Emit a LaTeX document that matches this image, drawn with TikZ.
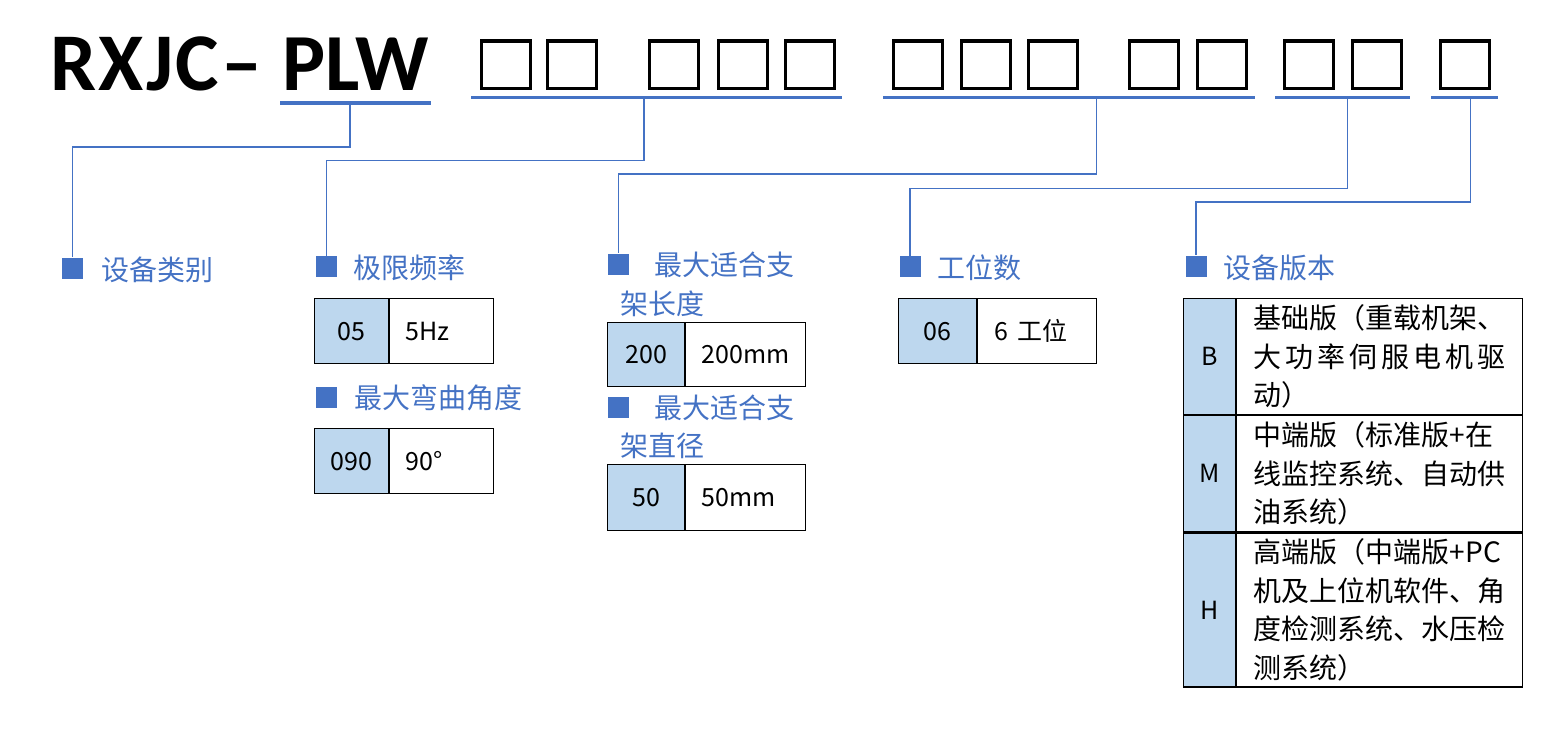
\documentclass[tikz,border=0pt]{standalone}
\usepackage{fontspec}
\setmainfont{Noto Sans CJK SC}
\newfontfamily\titlefont{Carlito}
\newfontfamily\wideTitlefont{Carlito}[LetterSpace=3]
\definecolor{tagblue}{HTML}{4472C4}
\definecolor{cellblue}{HTML}{BDD7EE}
\tikzset{
  tofu/.style={draw=black,line width=3.4},
  uline/.style={draw=tagblue,line width=3.2},
  link/.style={draw=tagblue,line width=1.4},
  sqtag/.style={fill=tagblue,minimum size=21,inner sep=0},
  lbl/.style={anchor=base west,inner sep=0,text=tagblue},
  keycell/.style={draw,line width=1.2,fill=cellblue,anchor=north west,inner sep=0,font=\fontsize{25}{25}\selectfont},
  valcell/.style={draw,line width=1.2,anchor=north west,inner xsep=16,inner ysep=0,align=left,font=\fontsize{25}{25}\selectfont},
  vercell/.style={valcell,inner xsep=17,text width=252,font=\fontsize{28}{38.5}\selectfont}
}
\begin{document}
\begin{tikzpicture}[x=1pt,y=-1pt,font=\fontsize{28}{28}\selectfont]
\useasboundingbox (0,0) rectangle (1564,731);
\node[anchor=base west,inner sep=0,font=\fontsize{82}{82}\selectfont\wideTitlefont\bfseries] (rxjc) at (50,90) {RXJC\kern2pt–};
\node[anchor=base west,inner sep=0,font=\fontsize{81}{81}\selectfont\titlefont\bfseries] (plw) at (282,90) {PLW};
\foreach \bx in {480,546,648,717,784,892,960,1027,1128,1196,1283,1351,1439} \draw[tofu] (\bx+1.7,41) rectangle (\bx+50.3,88.3);
\draw[uline] (280,103)--(431,103); \draw[uline] (471,97.5)--(842,97.5); \draw[uline] (883,97.5)--(1255,97.5); \draw[uline] (1275,97.5)--(1410,97.5); \draw[uline] (1431,97.5)--(1498,97.5);
\coordinate (c0) at (350,103); \coordinate (c1) at (644,97.5); \coordinate (c2) at (1096.5,97.5); \coordinate (c3) at (1347.5,97.5); \coordinate (c4) at (1470.5,97.5);
% markers and labels
\node[sqtag] (m1) at (72.5,268) {}; \node[lbl] (l1) at (101.5,280) {设备类别};
\node[sqtag] (m2) at (326.5,266.5) {}; \node[lbl] (l2) at (353.5,278) {极限频率};
\node[sqtag] (m2b) at (326.5,397) {}; \node[lbl] (l2b) at (354.5,408) {最大弯曲角度};
\node[sqtag] (m3) at (618.5,264) {}; \node[lbl] (l3) at (654.5,275) {最大适合支}; \node[lbl] (l3x) at (620.5,314) {架长度};
\node[sqtag] (m3b) at (618.5,407) {}; \node[lbl] (l3b) at (654.5,418) {最大适合支}; \node[lbl] (l3bx) at (620.5,456) {架直径};
\node[sqtag] (m4) at (910,266.5) {}; \node[lbl] (l4) at (937.5,278) {工位数};
\node[sqtag] (m5) at (1196,266) {}; \node[lbl] (l5) at (1223.5,278) {设备版本};
\draw[link] (c0) -- ++(0,44) -| (m1.north); \draw[link] (c1) -- ++(0,63) -| (m2.north); \draw[link] (c2) -- ++(0,76.5) -| (m3.north);
\draw[link] (c3) -- ++(0,91) -| (m4.north); \draw[link] (c4) -- ++(0,104.5) -| (m5.north);
% code tables
\node[keycell,minimum width=73.5,minimum height=65] (k05) at (314,298) {05}; \node[valcell,text width=72.5,minimum height=65] (v05) at (k05.north east) {5Hz};
\node[keycell,minimum width=73.5,minimum height=65] (k090) at (314,428) {090}; \node[valcell,text width=72.5,minimum height=65] (v090) at (k090.north east) {90°};
\node[keycell,minimum width=77,minimum height=64] (k200) at (607,322) {200}; \node[valcell,text width=88,minimum height=64] (v200) at (k200.north east) {200mm};
\node[keycell,minimum width=77,minimum height=66] (k50) at (607,464) {50}; \node[valcell,text width=88,minimum height=66] (v50) at (k50.north east) {50mm};
\node[keycell,minimum width=78.5,minimum height=65] (k06) at (897.5,298) {06}; \node[valcell,text width=85,inner xsep=17,minimum height=65] (v06) at (k06.north east) {6 工位};
\node[keycell,minimum width=52,minimum height=116] (kB) at (1183,298) {B};
\node[vercell,minimum height=116] (vB) at (kB.north east) {基础版（重载机架、\\\makebox[252pt][s]{大\hfill 功\hfill 率\hfill 伺\hfill 服\hfill 电\hfill 机\hfill 驱}\\动）};
\node[keycell,minimum width=52,minimum height=116] (kM) at (kB.south west) {M};
\node[vercell,minimum height=116] (vM) at (kM.north east) {中端版（标准版+在\\线监控系统、自动供\\油系统）};
\node[keycell,minimum width=52,minimum height=154] (kH) at (kM.south west) {H};
\node[vercell,minimum height=154] (vH) at (kH.north east) {高端版（中端版+PC\\机及上位机软件、角\\度检测系统、水压检\\测系统）};
\end{tikzpicture}
\end{document}
